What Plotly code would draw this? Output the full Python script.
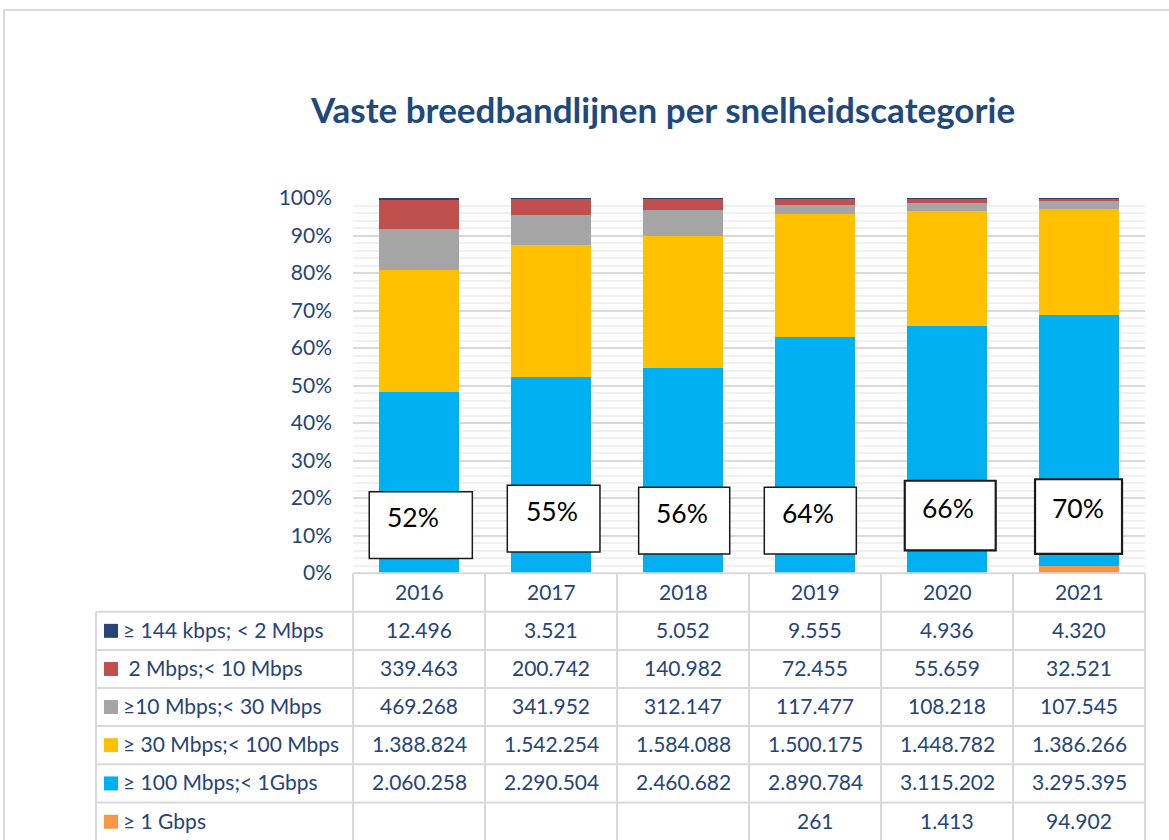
import plotly.graph_objects as go

# ---------------- data ----------------
years = ["2016", "2017", "2018", "2019", "2020", "2021"]
cat_labels = ["≥ 144 kbps; < 2 Mbps", " 2 Mbps;< 10 Mbps", "≥10 Mbps;< 30 Mbps",
              "≥ 30 Mbps;< 100 Mbps", "≥ 100 Mbps;< 1Gbps", "≥ 1 Gbps"]
s_144k = [12496, 3521, 5052, 9555, 4936, 4320]
s_2m = [339463, 200742, 140982, 72455, 55659, 32521]
s_10m = [469268, 341952, 312147, 117477, 108218, 107545]
s_30m = [1388824, 1542254, 1584088, 1500175, 1448782, 1386266]
s_100m = [2060258, 2290504, 2460682, 2890784, 3115202, 3295395]
s_1g = [None, None, None, 261, 1413, 94902]
box_labels = ["52%", "55%", "56%", "64%", "66%", "70%"]

# ---------------- style ----------------
colors = ["#264478", "#c0504d", "#a5a5a5", "#ffc000", "#00b0f0", "#f79646"]
series = [s_144k, s_2m, s_10m, s_30m, s_100m, s_1g]
TXT = "#264478"
FONT = "Lato"
W, H = 1169, 840
L, R, T, B = 353, 1145, 198, 573  # plot area in px


def px(xp):
    return (xp - L) / (R - L)


def py(yp):
    return (B - yp) / (B - T)


fig = go.Figure()
idx = list(range(len(years)))
# stack from bottom: 1 Gbps, 100 Mbps, 30 Mbps, 10 Mbps, 2 Mbps, 144 kbps
for name, vals, col in reversed(list(zip(cat_labels, series, colors))):
    fig.add_trace(go.Bar(x=years, y=vals, name=name.strip(), marker_color=col,
                         marker_line_width=0, width=0.6))

shapes = []
annotations = []

# boxes with percentages (x in category index, y in percent)
box_geom = [(-0.377, 0.404, 3.9, 21.7, -0.043, 15.0, 1.5),
            (0.669, 1.371, 5.6, 23.4, 1.004, 16.6, 1.5),
            (1.664, 2.354, 5.1, 22.85, 1.996, 16.0, 1.5),
            (2.616, 3.313, 5.1, 22.85, 2.949, 16.1, 1.5),
            (3.680, 4.369, 6.05, 24.6, 4.004, 17.25, 2.2),
            (4.667, 5.326, 5.1, 25.0, 4.989, 17.3, 2.2)]
for lab, (x0, x1, y0, y1, tx, ty, lw) in zip(box_labels, box_geom):
    shapes.append(dict(type="rect", xref="x", yref="y", x0=x0, x1=x1, y0=y0, y1=y1,
                       fillcolor="white", line=dict(color="#1a1a1a", width=lw)))
    annotations.append(dict(xref="x", yref="y", x=tx, y=ty, text=lab, showarrow=False,
                            font=dict(family=FONT, size=26.5, color="black"),
                            xanchor="center", yanchor="middle"))

# ---------------- data table ----------------
GRID = "#d9d9d9"
row_lines = [611.7, 650, 688, 726, 764.3, 802.6, 840.9]
bottom = 842
TS = 21
shapes.append(dict(type="line", xref="paper", yref="paper", x0=px(353), x1=px(1145),
                   y0=py(573.3), y1=py(573.3), line=dict(color=GRID, width=2)))
for yl in row_lines:
    shapes.append(dict(type="line", xref="paper", yref="paper", x0=px(96), x1=px(1145),
                       y0=py(yl), y1=py(yl), line=dict(color=GRID, width=2)))
shapes.append(dict(type="line", xref="paper", yref="paper", x0=px(96), x1=px(96),
                   y0=py(611.7), y1=py(bottom), line=dict(color=GRID, width=2)))
for i in range(len(years) + 1):
    xv = L + (R - L) * i / len(years)
    shapes.append(dict(type="line", xref="paper", yref="paper", x0=px(xv), x1=px(xv),
                       y0=py(573.3), y1=py(bottom), line=dict(color=GRID, width=2)))

header_y = 591.5
for i, yr in zip(idx, years):
    annotations.append(dict(xref="x", yref="paper", x=i, y=py(header_y), text=yr,
                            showarrow=False, font=dict(family=FONT, size=TS, color=TXT),
                            xanchor="center", yanchor="middle"))

for r, (lab, vals, col) in enumerate(zip(cat_labels, series, colors)):
    yc = (row_lines[r] + row_lines[r + 1]) / 2
    shapes.append(dict(type="rect", xref="paper", yref="paper", x0=px(104), x1=px(118),
                       y0=py(yc + 7), y1=py(yc - 7), fillcolor=col, line=dict(width=0)))
    ty = yc - 1.5
    annotations.append(dict(xref="paper", yref="paper", x=px(121), y=py(ty),
                            text=lab.replace(" ", "&nbsp;") if lab.startswith(" ") else lab,
                            showarrow=False, font=dict(family=FONT, size=TS, color=TXT),
                            xanchor="left", yanchor="middle"))
    for i, v in zip(idx, vals):
        if v is None:
            continue
        annotations.append(dict(xref="x", yref="paper", x=i, y=py(ty),
                                text=f"{v:,}".replace(",", "."), showarrow=False,
                                font=dict(family=FONT, size=TS, color=TXT),
                                xanchor="center", yanchor="middle"))

# outer frame
shapes.append(dict(type="rect", xref="paper", yref="paper", x0=px(4), x1=px(1190),
                   y0=py(10), y1=py(860), line=dict(color="#d9d9d9", width=2),
                   fillcolor="rgba(0,0,0,0)", layer="below"))

fig.update_layout(
    width=W, height=H,
    margin=dict(l=L, r=W - R, t=T, b=H - B, pad=0),
    barmode="stack", barnorm="percent",
    paper_bgcolor="white", plot_bgcolor="white",
    showlegend=False,
    title=dict(text="Vaste breedbandlijnen per snelheidscategorie",
               xref="container", yref="container", x=663 / W, y=1 - 111 / H,
               xanchor="center", yanchor="middle",
               font=dict(family=FONT, size=35, color="#1f497d", weight="bold")),
    xaxis=dict(type="category", showticklabels=False, showgrid=False, zeroline=False,
               showline=False, ticks="", range=[-0.5, 5.5], fixedrange=True),
    yaxis=dict(range=[0, 100], dtick=10, ticksuffix="%", showgrid=True,
               gridcolor="#d9d9d9", gridwidth=1.5, zeroline=False, showline=False,
               ticks="", ticklabelstandoff=20,
               tickfont=dict(family=FONT, size=TS, color=TXT),
               minor=dict(dtick=2, showgrid=True, gridcolor="#f0f0f0", gridwidth=1.5)),
    shapes=shapes, annotations=annotations,
    font=dict(family=FONT, color=TXT),
)

fig.write_html("out.html", config={"displayModeBar": False},
               post_script="document.body.style.margin='0';")
